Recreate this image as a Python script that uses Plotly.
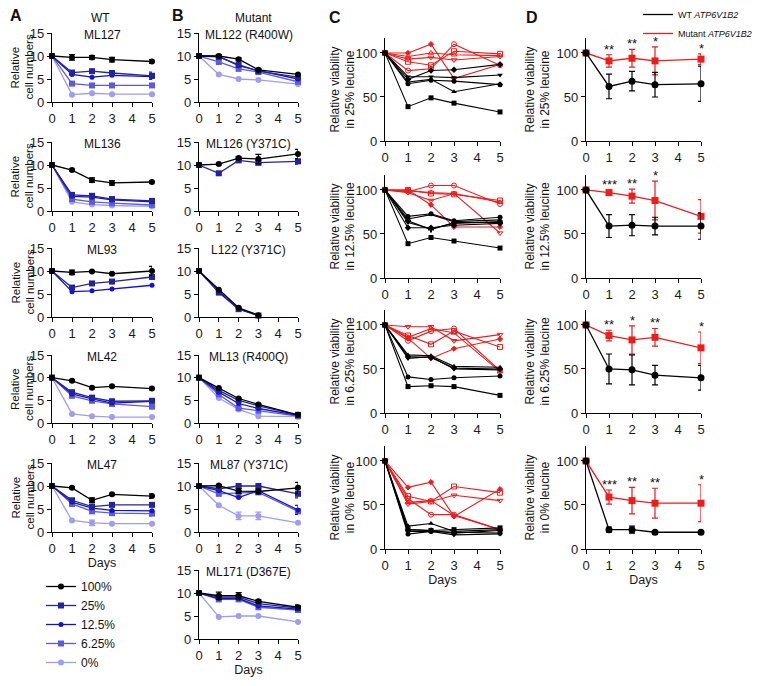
import plotly.graph_objects as go

W, H = 764, 686
OFF = 8  # the page body adds an 8px margin around the figure
FONT = "Liberation Sans, Arial, sans-serif"

DAYS = [0, 1, 2, 3, 5]
CONC = ["100%", "25%", "12.5%", "6.25%", "0%"]

# ---------------- Panel A (WT lines): relative cell numbers ----------------
ML127 = {"100%": [10, 9.7, 9.7, 9.2, 8.8], "25%": [10, 6.4, 6.7, 6.3, 5.7],
         "12.5%": [10, 6.0, 5.4, 5.8, 5.5], "6.25%": [10, 4.0, 3.6, 3.6, 3.6],
         "0%": [10, 1.6, 1.9, 1.7, 1.7]}
ML127_ERR = {"100%": [0, 0.6, 0.4, 0.5, 0.4], "25%": [0, 0.2, 0.2, 0.2, 0.8]}
ML136 = {"100%": [10, 8.9, 6.7, 6.1, 6.3], "25%": [10, 3.5, 3.3, 2.6, 2.2],
         "12.5%": [10, 3.2, 3.0, 2.4, 2.0], "6.25%": [10, 2.6, 2.0, 1.7, 1.3],
         "0%": [10, 2.0, 1.4, 1.2, 1.0]}
ML136_ERR = {"100%": [0, 0.2, 0.5, 0.5, 0.3], "25%": [0, 0.3, 0.3, 0.3, 0.3]}
ML93 = {"100%": [10, 9.7, 9.9, 9.4, 10.0], "25%": [10, 6.4, 7.3, 7.7, 8.7],
        "12.5%": [10, 5.5, 5.7, 6.1, 6.9]}
ML93_ERR = {"100%": [0, 0.5, 0.2, 0.2, 1.0], "25%": [0, 0, 0, 0, 0.5]}
ML42 = {"100%": [10, 9.3, 7.8, 8.1, 7.6], "25%": [10, 6.8, 5.6, 4.8, 4.9],
        "12.5%": [10, 6.4, 5.3, 4.4, 4.8], "6.25%": [10, 6.0, 4.9, 4.2, 3.6],
        "0%": [10, 2.0, 1.5, 1.3, 1.3]}
ML42_ERR = {"100%": [0, 0.2, 0.2, 0.2, 0.3], "6.25%": [0, 0, 0, 0, 0.4]}
ML47 = {"100%": [10, 9.6, 6.9, 8.2, 7.8], "25%": [10, 6.9, 5.5, 5.9, 5.9],
        "12.5%": [10, 6.5, 5.2, 4.7, 4.6], "6.25%": [10, 6.1, 4.5, 4.1, 4.0],
        "0%": [10, 2.5, 2.0, 1.8, 1.8]}
ML47_ERR = {"100%": [0, 0.2, 0.5, 0.2, 0.5], "6.25%": [0, 0, 0, 0, 0.5], "0%": [0, 0, 0.6, 0, 0]}

# ---------------- Panel B (mutant lines) ----------------
ML122 = {"100%": [10, 10.0, 9.3, 7.0, 6.0], "25%": [10, 9.8, 8.1, 6.7, 5.4],
         "12.5%": [10, 9.9, 7.9, 6.8, 5.0], "6.25%": [10, 8.7, 7.2, 6.5, 4.4],
         "0%": [10, 6.0, 5.0, 4.8, 3.9]}
ML122_ERR = {"100%": [0, 0.3, 0.3, 0.2, 0.2]}
ML126 = {"100%": [10, 10.2, 11.5, 11.3, 12.4], "25%": [10, 8.2, 11.0, 10.5, 10.8]}
ML126_ERR = {"100%": [0, 0.2, 0.3, 1.0, 1.0], "25%": [0, 0.3, 0.3, 0.5, 0.6]}
L122 = {"100%": [10, 5.9, 2.0, 0.4, None], "25%": [10, 5.3, 1.7, 0.3, None],
        "12.5%": [10, 5.6, 1.8, 0.3, None]}
L122_ERR = {}
ML13 = {"100%": [10, 7.7, 5.4, 4.1, 1.8], "25%": [10, 7.2, 5.0, 3.8, 1.8],
        "12.5%": [10, 6.8, 4.3, 3.2, 1.7], "6.25%": [10, 6.3, 3.3, 2.7, 1.5],
        "0%": [10, 5.5, 3.0, 1.5, 1.4]}
ML13_ERR = {}
ML87 = {"100%": [10, 10.1, 8.9, 8.8, 9.6], "25%": [10, 9.4, 10.0, 10.0, 8.3],
        "12.5%": [10, 9.0, 7.5, 9.0, 4.8], "6.25%": [10, 8.3, 8.5, 8.6, 4.5],
        "0%": [10, 5.8, 3.5, 3.5, 2.0]}
ML87_ERR = {"100%": [0, 0.2, 0.5, 0.5, 1.2], "25%": [0, 0, 0, 0, 0.9],
            "12.5%": [0, 0, 0, 0, 1.0], "0%": [0, 0, 0.8, 0.8, 0]}
ML171 = {"100%": [10, 9.4, 9.4, 8.2, 6.9], "25%": [10, 9.1, 9.1, 7.7, 6.7],
         "12.5%": [10, 8.8, 8.8, 7.2, 6.5], "6.25%": [10, 8.6, 8.6, 6.9, 6.3],
         "0%": [10, 4.8, 5.0, 5.0, 3.7]}
ML171_ERR = {"100%": [0, 0.8, 0.7, 0.3, 0.5]}

A_TITLES = ["ML127", "ML136", "ML93", "ML42", "ML47"]
B_TITLES = ["ML122 (R400W)", "ML126 (Y371C)", "L122 (Y371C)", "ML13 (R400Q)",
            "ML87 (Y371C)", "ML171 (D367E)"]
A_DATA = [(ML127, ML127_ERR), (ML136, ML136_ERR), (ML93, ML93_ERR), (ML42, ML42_ERR), (ML47, ML47_ERR)]
B_DATA = [(ML122, ML122_ERR), (ML126, ML126_ERR), (L122, L122_ERR), (ML13, ML13_ERR),
          (ML87, ML87_ERR), (ML171, ML171_ERR)]

# ---------------- Panel C: individual lines, relative viability ----------------
C_LEUCINE = ["25%", "12.5%", "6.25%", "0%"]
C25_WT = [[100, 39, 49, 43, 33], [100, 65, 69, 68, 64], [100, 67, 70, 56, 65],
          [100, 73, 73, 72, 75], [100, 70, 80, 81, 87]]
C25_MUT = [[100, 80, 82, 110, 86], [100, 90, 86, 102, 99], [100, 93, 95, 92, 96],
           [100, 100, 110, 71, 87], [100, 96, 100, 98, 97]]
C12_WT = [[100, 39, 46, 42, 34], [100, 70, 73, 65, 69], [100, 67, 72, 64, 66],
          [100, 63, 56, 62, 64], [100, 57, 57, 60, 62], [100, 65, 55, 63, 63]]
C12_MUT = [[100, 98, 105, 105, 84], [100, 100, 96, 95, 88], [100, 97, 88, 96, 51],
           [100, 100, 83, 58, 58], [100, 99, 97, 96, 86]]
C6_WT = [[100, 30, 31, 30, 20], [100, 41, 38, 40, 42], [100, 66, 65, 53, 52],
         [100, 62, 64, 50, 49], [100, 64, 63, 51, 50]]
C6_MUT = [[100, 82, 93, 96, 48], [100, 88, 78, 93, 75], [100, 98, 98, 82, 89],
          [100, 85, 62, 73, 84], [100, 86, 96, 91, 47]]
C0_WT = [[100, 22, 21, 22, 24], [100, 17, 20, 19, 18], [100, 26, 29, 20, 22],
         [100, 20, 20, 16, 17], [100, 22, 21, 18, 21]]
C0_MUT = [[100, 57, 39, 39, 22], [100, 60, 54, 71, 64], [100, 51, 54, 61, 55],
          [100, 70, 76, 37, 68], [100, 53, 55, 38, 22]]
C_WT = [C25_WT, C12_WT, C6_WT, C0_WT]
C_MUT = [C25_MUT, C12_MUT, C6_MUT, C0_MUT]
WT_SYMBOLS = ["square", "circle", "triangle-up", "triangle-down", "diamond", "cross"]
MUT_SYMBOLS = ["circle-open", "square-open", "triangle-down-open", "diamond", "triangle-up-open"]

# ---------------- Panel D: mean +/- SD ----------------
D_WT_MEAN = [[100, 62, 68, 64, 65], [100, 59, 60, 59, 59], [100, 50, 49, 43, 40], [100, 22, 22, 19, 19]]
D_WT_SD = [[0, 14, 11, 14, 20], [0, 13, 12, 10, 15], [0, 17, 17, 11, 14], [0, 3, 4, 2, 2]]
D_MUT_MEAN = [[100, 91, 94, 91, 93], [100, 97, 93, 88, 70], [100, 88, 83, 86, 74], [100, 59, 55, 52, 52]]
D_MUT_SD = [[0, 7, 10, 16, 6], [0, 3, 8, 22, 19], [0, 6, 16, 10, 18], [0, 8, 15, 17, 21]]
D_STARS = [["**", "**", "*", "*"], ["***", "**", "*", ""], ["**", "*", "**", "*"], ["***", "**", "**", "*"]]

# ---------------- styles ----------------
A_COLORS = {"100%": "#000000", "25%": "#23239e", "12.5%": "#1010d8", "6.25%": "#5a5ae6", "0%": "#9d9df2"}
A_SYMBOLS = {"100%": "circle", "25%": "square", "12.5%": "circle", "6.25%": "square", "0%": "circle"}
A_SIZES = {"100%": 6, "25%": 6, "12.5%": 5, "6.25%": 6, "0%": 6}
RED = "#ee1c1c"

# layout positions in window pixels
A_X = (52, 152)
B_X = (199, 298)
C_X = (385, 500)
D_X = (586, 701)
AB_ROWS = [(33, 102), (142, 211), (248, 317), (355, 423), (463, 532), (570, 639)]
CD_ROWS = [(38, 141), (175, 278), (310, 413), (446, 549)]


def fx(x):
    return (x - OFF) / W


def fy(y):
    return 1 - (y - OFF) / H


fig = go.Figure()
axis_common = dict(showline=True, linecolor="black", linewidth=1.3, ticks="outside", ticklen=4,
                   tickwidth=1.3, tickcolor="black", showgrid=False, zeroline=False,
                   tickfont=dict(family=FONT, size=13, color="#1a1a1a"), fixedrange=True,
                   automargin=False)
layout_axes = {}
annotations = []


def sfx(i):
    return "" if i == 1 else str(i)


def make_axes(i, xpx, ypx, yrange, yticks, days_title=False):
    xa = dict(axis_common, domain=[fx(xpx[0]), fx(xpx[1])], range=[0, 5],
              tickvals=[0, 1, 2, 3, 4, 5], anchor="y" + sfx(i))
    if days_title:
        xa["title"] = dict(text="Days", font=dict(family=FONT, size=12.5, color="#1a1a1a"), standoff=2)
    ya = dict(axis_common, domain=[fy(ypx[1]), fy(ypx[0])], range=yrange,
              tickvals=yticks, anchor="x" + sfx(i))
    layout_axes["xaxis" + sfx(i)] = xa
    layout_axes["yaxis" + sfx(i)] = ya


def text(x, y, s, size=12, bold=False):
    annotations.append(dict(x=fx(x), y=fy(y), xref="paper", yref="paper",
                            text=("<b>" + s + "</b>") if bold else s, showarrow=False,
                            font=dict(family=FONT, size=size, color="#111111"),
                            xanchor="center", yanchor="middle"))


def ytitle(xpx, idx, s, size=12):
    annotations.append(dict(x=fx(xpx), y=0.5, xref="paper", yref="y%s domain" % sfx(idx),
                            text=s, textangle=-90, showarrow=False, xanchor="center", yanchor="middle",
                            font=dict(family=FONT, size=size, color="#111111")))


idx = 0
# Panels A and B
for col, (xpx, titles, data) in enumerate([(A_X, A_TITLES, A_DATA), (B_X, B_TITLES, B_DATA)]):
    for r, (title, (vals, errs)) in enumerate(zip(titles, data)):
        idx += 1
        last = r == len(titles) - 1
        make_axes(idx, xpx, AB_ROWS[r], [0, 15], [0, 5, 10, 15], days_title=last)
        for c in reversed(CONC):
            if c not in vals:
                continue
            err = errs.get(c)
            fig.add_trace(go.Scatter(
                x=DAYS, y=vals[c], mode="lines+markers", name=c,
                xaxis="x" + sfx(idx), yaxis="y" + sfx(idx), cliponaxis=False,
                line=dict(color=A_COLORS[c], width=1.3),
                marker=dict(color=A_COLORS[c], symbol=A_SYMBOLS[c], size=A_SIZES[c]),
                error_y=dict(type="data", array=err, visible=True, color=A_COLORS[c], thickness=1.2, width=3) if err else None,
                showlegend=(idx == 1), legendrank=CONC.index(c) + 1, legend="legend"))
        annotations.append(dict(x=0.5, y=1, xref="x%s domain" % sfx(idx), yref="y%s domain" % sfx(idx),
                                text=title, showarrow=False, yanchor="middle", yshift=-2,
                                font=dict(family=FONT, size=12, color="#111111")))
        if col == 0:
            ytitle(15, idx, "Relative", size=11.5)
            ytitle(29, idx, "cell numbers", size=11.5)

# Panel C
for r, leu in enumerate(C_LEUCINE):
    idx += 1
    make_axes(idx, C_X, CD_ROWS[r], [0, 117], [0, 50, 100], days_title=(r == 3))
    for k, series in enumerate(C_MUT[r]):
        sym = MUT_SYMBOLS[k % len(MUT_SYMBOLS)]
        fig.add_trace(go.Scatter(x=DAYS, y=series, mode="lines+markers", showlegend=False,
                                 xaxis="x" + sfx(idx), yaxis="y" + sfx(idx), cliponaxis=False,
                                 line=dict(color=RED, width=1.1),
                                 marker=dict(color=RED, symbol=sym, size=4 if sym == "diamond" else 5,
                                             line=dict(color=RED, width=1))))
    for k, series in enumerate(C_WT[r]):
        fig.add_trace(go.Scatter(x=DAYS, y=series, mode="lines+markers", showlegend=False,
                                 xaxis="x" + sfx(idx), yaxis="y" + sfx(idx), cliponaxis=False,
                                 line=dict(color="black", width=1.1),
                                 marker=dict(color="black", symbol=WT_SYMBOLS[k % len(WT_SYMBOLS)], size=5)))
    ytitle(342, idx, "Relative viability<br>in %s leucine" % leu)

# Panel D
for r, leu in enumerate(C_LEUCINE):
    idx += 1
    make_axes(idx, D_X, CD_ROWS[r], [0, 117], [0, 50, 100], days_title=(r == 3))
    fig.add_trace(go.Scatter(x=DAYS, y=D_MUT_MEAN[r], mode="lines+markers", showlegend=False,
                             xaxis="x" + sfx(idx), yaxis="y" + sfx(idx), cliponaxis=False,
                             line=dict(color=RED, width=1.3),
                             marker=dict(color=RED, symbol="square", size=7),
                             error_y=dict(type="data", array=D_MUT_SD[r], color=RED, thickness=1.2, width=3)))
    fig.add_trace(go.Scatter(x=DAYS, y=D_WT_MEAN[r], mode="lines+markers", showlegend=False,
                             xaxis="x" + sfx(idx), yaxis="y" + sfx(idx), cliponaxis=False,
                             line=dict(color="black", width=1.3),
                             marker=dict(color="black", symbol="circle", size=7),
                             error_y=dict(type="data", array=D_WT_SD[r], color="black", thickness=1.2, width=3)))
    for d, s, m, e in zip(DAYS[1:], D_STARS[r], D_MUT_MEAN[r][1:], D_MUT_SD[r][1:]):
        if s:
            annotations.append(dict(x=d, y=m + e, xref="x" + sfx(idx), yref="y" + sfx(idx), text=s,
                                    showarrow=False, yanchor="bottom", yshift=-4,
                                    font=dict(family=FONT, size=13, color="#111111")))
    ytitle(537, idx, "Relative viability<br>in %s leucine" % leu)

# Legend entries for panel D
fig.add_trace(go.Scatter(x=[None], y=[None], mode="lines", name="WT <i>ATP6V1B2</i>",
                         line=dict(color="black", width=1.3), xaxis="x16", yaxis="y16", legend="legend2"))
fig.add_trace(go.Scatter(x=[None], y=[None], mode="lines", name="Mutant <i>ATP6V1B2</i>",
                         line=dict(color=RED, width=1.3), xaxis="x16", yaxis="y16", legend="legend2"))

# Headers and panel letters
text(100, 18, "WT", 12)
text(253, 18, "Mutant", 12)
text(16, 16, "A", 16, bold=True)
text(178, 16, "B", 16, bold=True)
text(335, 17, "C", 16, bold=True)
text(532, 17, "D", 16, bold=True)

fig.update_layout(
    width=W, height=H, margin=dict(l=0, r=0, t=0, b=0, autoexpand=False),
    paper_bgcolor="white", plot_bgcolor="white",
    font=dict(family=FONT, color="#111111"),
    annotations=annotations,
    legend=dict(x=fx(41), y=fy(572), xanchor="left", yanchor="top", bgcolor="rgba(0,0,0,0)",
                font=dict(family=FONT, size=12, color="#111111"), itemwidth=30, tracegroupgap=0),
    legend2=dict(x=fx(638), y=fy(0), xanchor="left", yanchor="top", bgcolor="rgba(0,0,0,0)",
                 font=dict(family=FONT, size=9, color="#111111"), itemwidth=30, tracegroupgap=0),
    **layout_axes,
)

fig.write_html("out.html")
